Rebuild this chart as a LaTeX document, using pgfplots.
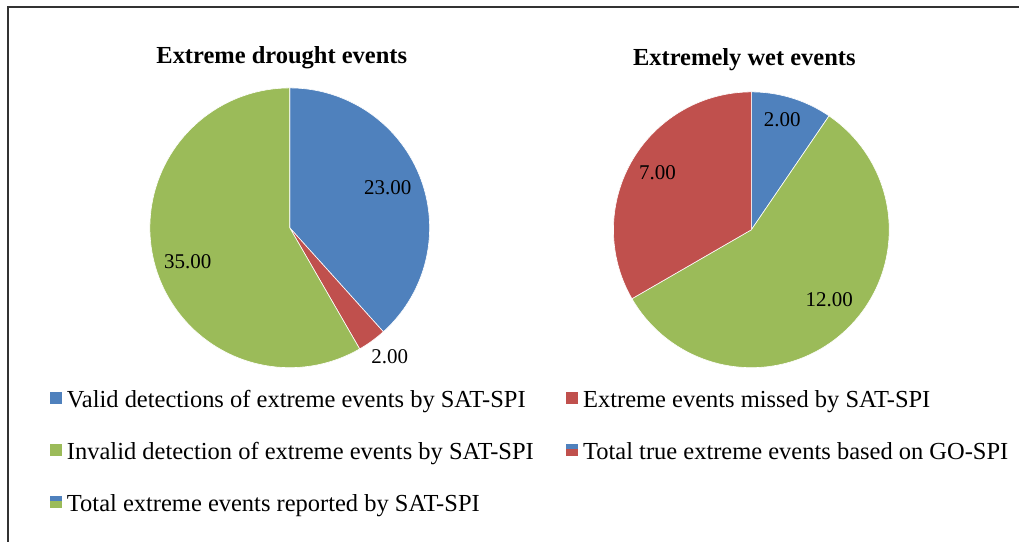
\documentclass[border=0pt]{standalone}
\usepackage{pgfplots}
\pgfplotsset{compat=1.18}
\usepackage{pgfplotstable}
\usepackage{fontspec}
\setmainfont{Liberation Serif}

\definecolor{sliceblue}{HTML}{4F81BD}
\definecolor{slicered}{HTML}{C0504D}
\definecolor{slicegreen}{HTML}{9BBB59}
\definecolor{framegray}{HTML}{333333}

% Event counts, listed clockwise from twelve o'clock
\pgfplotstableread{
value
23
2
35
}\drought
\pgfplotstableread{
value
2
12
7
}\wet

% slice angles (degrees, clockwise from 90)
\pgfplotstablegetelem{0}{value}\of\drought \let\dvA\pgfplotsretval
\pgfplotstablegetelem{1}{value}\of\drought \let\dvB\pgfplotsretval
\pgfplotstablegetelem{2}{value}\of\drought \let\dvC\pgfplotsretval
\pgfmathsetmacro\dtot{\dvA+\dvB+\dvC}
\pgfmathsetmacro\daA{90-360*\dvA/\dtot}
\pgfmathsetmacro\daB{\daA-360*\dvB/\dtot}
\pgfmathsetmacro\daC{\daB-360*\dvC/\dtot}

\pgfplotstablegetelem{0}{value}\of\wet \let\wvA\pgfplotsretval
\pgfplotstablegetelem{1}{value}\of\wet \let\wvB\pgfplotsretval
\pgfplotstablegetelem{2}{value}\of\wet \let\wvC\pgfplotsretval
\pgfmathsetmacro\wtot{\wvA+\wvB+\wvC}
\pgfmathsetmacro\waA{90-360*\wvA/\wtot}
\pgfmathsetmacro\waB{\waA-360*\wvB/\wtot}
\pgfmathsetmacro\waC{\waB-360*\wvC/\wtot}

% #1,#2 centre, #3 radius, #4 start angle, #5 end angle, #6 colour
\newcommand\pieslice[6]{%
  \addplot[forget plot, fill=#6, draw=white, line width=0.6pt,
    domain=#5:#4, samples=90, variable=\t]
    ({#1+#3*cos(\t)},{#2+#3*sin(\t)}) -- (axis cs:#1,#2) -- cycle;}

\newcommand\vallabel[1]{\pgfmathprintnumber[fixed,fixed zerofill,precision=2,assume math mode=true]{#1}}

% legend keys: plain square and two-colour square (with a small gap before the text)
\newcommand\keysquare[1]{\path (0pt,0pt) (15pt,0pt); \fill[#1] (0pt,-3pt) rectangle (11pt,8pt);}
\newcommand\keysplit[2]{\path (0pt,0pt) (15pt,0pt); \fill[#1] (0pt,2.5pt) rectangle (11pt,8pt); \fill[#2] (0pt,-3pt) rectangle (11pt,2.5pt);}

\begin{document}
\begin{tikzpicture}
\begin{axis}[
  scale only axis, width=1020pt, height=542pt,
  xmin=0, xmax=1020, ymin=0, ymax=542,
  axis line style={draw=none}, ticks=none, clip=false,
  legend columns=2,
  legend cell align=left,
  legend style={
    at={(0.046,0.286)}, anchor=north west,
    draw=none, fill=none,
    font=\fontsize{24.5}{28}\selectfont,
    row sep=30.5pt,
    nodes={inner sep=1.5pt},
    /tikz/every even column/.append style={column sep=31pt},
  },
]
% frame
\addplot[forget plot, framegray, line width=1.8pt] coordinates {(8,0) (8,535) (1020,535)};

% drought pie
\edef\tmp{\noexpand\pieslice{290}{314}{140}{90}{\daA}{sliceblue}}\tmp
\edef\tmp{\noexpand\pieslice{290}{314}{140}{\daA}{\daB}{slicered}}\tmp
\edef\tmp{\noexpand\pieslice{290}{314}{140}{\daB}{\daC}{slicegreen}}\tmp

% wet pie
\edef\tmp{\noexpand\pieslice{752}{312}{138}{90}{\waA}{sliceblue}}\tmp
\edef\tmp{\noexpand\pieslice{752}{312}{138}{\waA}{\waB}{slicegreen}}\tmp
\edef\tmp{\noexpand\pieslice{752}{312}{138}{\waB}{\waC}{slicered}}\tmp

% titles
\node[font=\bfseries\fontsize{24.5}{28}\selectfont] at (axis cs:282,484) {Extreme drought events};
\node[font=\bfseries\fontsize{24.5}{28}\selectfont] at (axis cs:745,482) {Extremely wet events};

% slice values
\begin{scope}[every node/.style={font=\fontsize{21}{24}\selectfont}]
\node at (axis cs:388,354) {\vallabel{\dvA}};
\node at (axis cs:390,185) {\vallabel{\dvB}};
\node at (axis cs:188,280) {\vallabel{\dvC}};
\node at (axis cs:783,422) {\vallabel{\wvA}};
\node at (axis cs:830,242) {\vallabel{\wvB}};
\node at (axis cs:658,369) {\vallabel{\wvC}};
\end{scope}

% legend
\addlegendimage{legend image code/.code={\keysquare{sliceblue}}}
\addlegendentry{Valid detections of extreme events by SAT-SPI}
\addlegendimage{legend image code/.code={\keysquare{slicered}}}
\addlegendentry{Extreme events missed by SAT-SPI}
\addlegendimage{legend image code/.code={\keysquare{slicegreen}}}
\addlegendentry{Invalid detection of extreme events by SAT-SPI}
\addlegendimage{legend image code/.code={\keysplit{sliceblue}{slicered}}}
\addlegendentry{Total true extreme events based on GO-SPI}
\addlegendimage{legend image code/.code={\keysplit{sliceblue}{slicegreen}}}
\addlegendentry{Total extreme events reported by SAT-SPI}
\end{axis}
\end{tikzpicture}
\end{document}
